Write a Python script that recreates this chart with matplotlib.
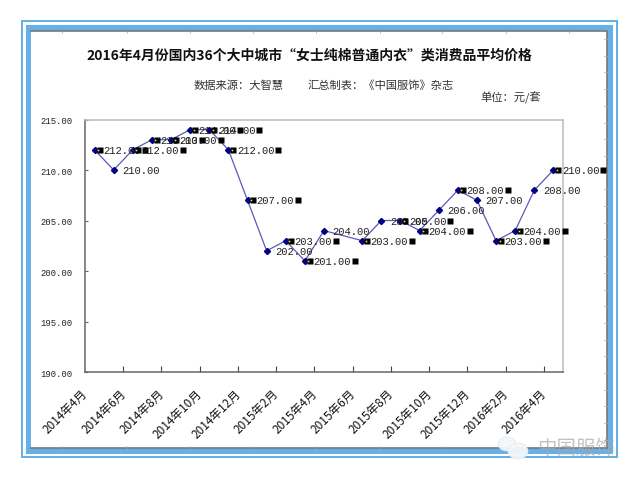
import matplotlib
matplotlib.use('Agg')
import matplotlib.pyplot as plt
from matplotlib.patches import Rectangle, Ellipse
from matplotlib.transforms import offset_copy

plt.rcParams['font.family'] = ['Noto Sans CJK SC', 'DejaVu Sans']

month_labels = ['2014年4月', '2014年6月', '2014年8月', '2014年10月', '2014年12月',
                '2015年2月', '2015年4月', '2015年6月', '2015年8月', '2015年10月',
                '2015年12月', '2016年2月', '2016年4月']
# month 13 has no point in the picture, the line just runs past it
month_idx = [0, 1, 2, 3, 4, 5, 6, 7, 8, 9, 10, 11, 12, 14, 15, 16, 17, 18, 19, 20, 21, 22, 23, 24]
prices = [212, 210, 212, 213, 213, 214, 214, 212, 207, 202, 203, 201, 204,
          203, 205, 205, 204, 206, 208, 207, 203, 204, 208, 210]
# labels that came out with the little black legend keys
has_key = [1, 0, 1, 1, 1, 1, 1, 1, 1, 0, 1, 1, 0,
           1, 0, 1, 1, 0, 1, 0, 1, 1, 0, 1]
n_months = 25

W, H = 640, 481
fig = plt.figure(figsize=(6.4, 4.81), dpi=100)

# page frame, drawn in pixel coords
bg = fig.add_axes([0, 0, 1, 1], zorder=0)
bg.set_xlim(0, W)
bg.set_ylim(H, 0)
bg.axis('off')
blue = '#66b0ea'
bg.add_patch(Rectangle((21, 21), 597, 438, fc=blue, ec='none'))
bg.add_patch(Rectangle((23, 23), 593, 434, fc='white', ec='none'))
bg.add_patch(Rectangle((26, 26), 587, 429, fc=blue, ec='none'))
bg.add_patch(Rectangle((31, 32), 576, 417, fc='white', ec='none'))
bg.plot([31, 607, 607], [32, 32, 449], color='#777777', lw=1.2)
bg.plot([31, 607], [449, 449], color='#777777', lw=1.2)
for x in [62, 127, 190, 253, 316, 380, 442, 506, 569]:
    bg.plot([x, x], [32, 34], color='#aaaaaa', lw=0.5)
    bg.plot([x, x], [447, 449], color='#aaaaaa', lw=0.5)
for i in range(25):
    y = 40 + i * 16.7
    bg.plot([604, 607], [y, y], color='#aaaaaa', lw=0.5)

bg.text(309, 56, '2016年4月份国内36个大中城市“女士纯棉普通内衣”类消费品平均价格',
        fontsize=10, fontweight='bold', ha='center', va='center', color='#111111')
bg.text(194, 86, '数据来源：大智慧', fontsize=8.1, ha='left', va='center', color='#333333')
bg.text(308, 86, '汇总制表：《中国服饰》杂志', fontsize=8.1, ha='left', va='center', color='#333333')
bg.text(480, 98, '单位：元/套', fontsize=8.1, ha='left', va='center', color='#333333')

# plot area
ax = fig.add_axes([85 / W, 1 - 373 / H, 478 / W, 252.5 / H], zorder=1)
ax.patch.set_alpha(0)
ax.set_xlim(-0.5, n_months - 0.5)
ax.set_ylim(190, 215)
ax.spines['left'].set_color('#666666')
ax.spines['bottom'].set_color('#666666')
ax.spines['top'].set_color('#bbbbbb')
ax.spines['right'].set_color('#bbbbbb')
for s in ax.spines.values():
    s.set_linewidth(1.1)

ax.set_yticks([190, 195, 200, 205, 210, 215])
ax.set_yticklabels(['%.2f' % v for v in [190, 195, 200, 205, 210, 215]],
                   family='Liberation Mono', fontsize=6.4, color='#222222')
ax.tick_params(axis='y', direction='in', length=2, width=0.8, color='#666666', pad=9)

ax.set_xticks([i - 0.5 for i in range(0, n_months, 2)][1:])
ax.set_xticklabels([])
ax.tick_params(axis='x', which='major', direction='in', length=4, width=0.8, color='#444444')

for pos, lab in zip(range(0, n_months, 2), month_labels):
    ax.annotate(lab, (pos, 190), xytext=(-9, -19), textcoords='offset pixels',
                rotation=45, ha='right', va='center', rotation_mode='anchor',
                fontsize=8.5, color='#111111', annotation_clip=False)

ax.plot(month_idx, prices, color='#5a5ab8', lw=0.9, marker='D', ms=3.1,
        mfc='#000080', mec='#000080', clip_on=False, zorder=3)

def px_offset(dx):
    return offset_copy(ax.transData, fig=fig, x=dx, y=0, units='dots')

for m, p, key in zip(month_idx, prices, has_key):
    ax.annotate('%.2f' % p, (m, p), xytext=(8.5, 0), textcoords='offset pixels',
                family='Liberation Mono', fontsize=7.6, color='#222222',
                ha='left', va='center', zorder=4)
    if key:
        ax.plot([m], [p], 's', ms=3.8, color='black', mec='none', clip_on=False,
                transform=px_offset(5), zorder=4)
        ax.plot([m], [p], 's', ms=1.2, color='#e8e040', mec='none', clip_on=False,
                transform=px_offset(3.5), zorder=4)
        ax.plot([m], [p], 's', ms=3.8, color='black', mec='none', clip_on=False,
                transform=px_offset(50), zorder=4)

# watermark, sits on top of the frame
wm = fig.add_axes([0, 0, 1, 1], zorder=2)
wm.set_xlim(0, W)
wm.set_ylim(H, 0)
wm.axis('off')
wm.patch.set_alpha(0)
wm.add_patch(Ellipse((507, 445), 18, 14, fc='#f4f7f9', ec='#e4e4e4', lw=0.5, alpha=0.95))
wm.add_patch(Ellipse((518, 452), 20, 16, fc='#f4f7f9', ec='#e4e4e4', lw=0.5, alpha=0.95))
wm.text(537, 448, '中国服饰', fontsize=14, ha='left', va='center', color='#a8a8a8', alpha=0.7)

fig.savefig('out.png', dpi=100)
